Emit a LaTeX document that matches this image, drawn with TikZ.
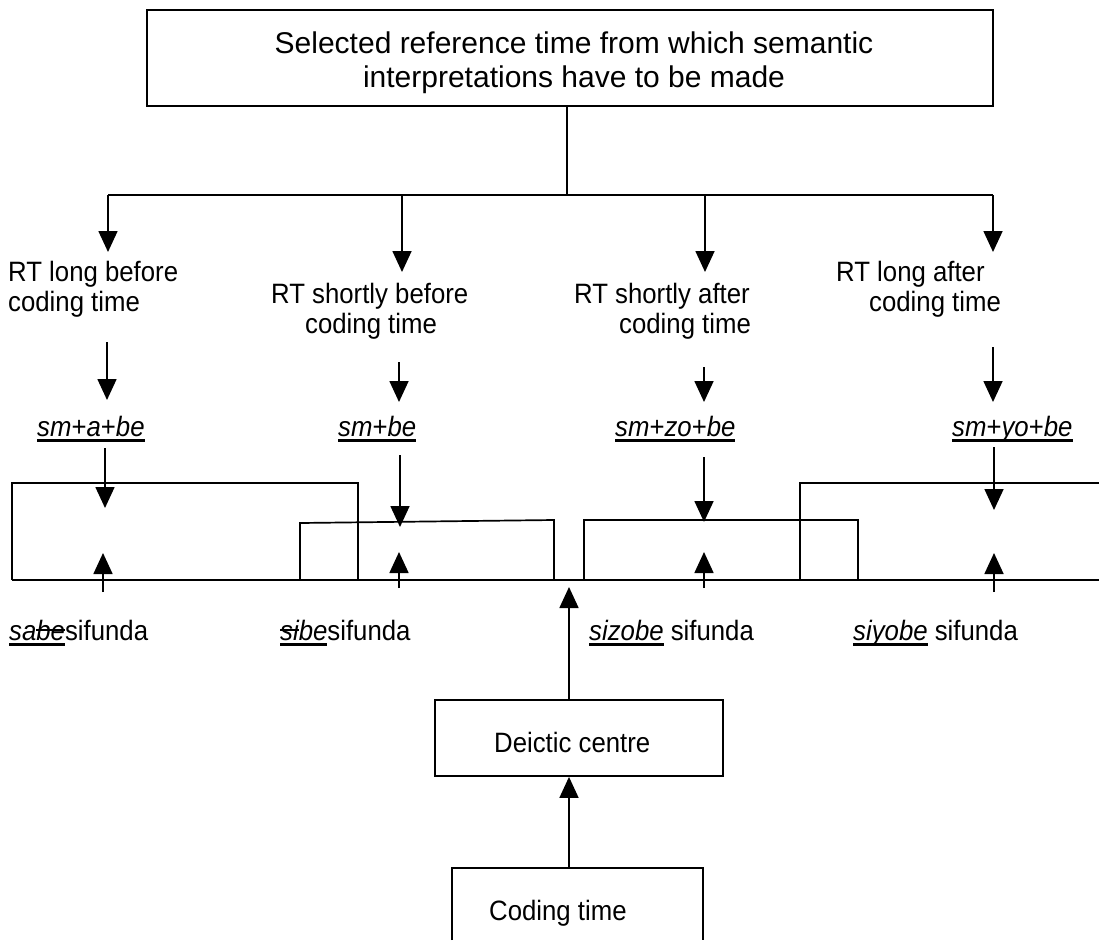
\documentclass[tikz,border=0pt]{standalone}
\usepackage{fontspec}
\setmainfont{Liberation Sans}
\newfontfamily\lblfont{Liberation Sans}[FakeStretch=0.92]
\usetikzlibrary{arrows.meta}
% underline and strike-out drawn as rules over the typeset text
\newsavebox\ulinebox
\newsavebox\strikebox
\newcommand\ulinetext[1]{\sbox\ulinebox{#1}\rlap{\rule[-6pt]{\wd\ulinebox}{2.6pt}}\usebox\ulinebox}
\newcommand\striketext[1]{\sbox\strikebox{#1}\rlap{\rule[9pt]{\wd\strikebox}{2pt}}\usebox\strikebox}
\begin{document}
\begin{tikzpicture}[x=1pt,y=-1pt,
  lbl/.style={inner sep=0pt, font=\lblfont\fontsize{28}{30}\selectfont, anchor=base west, align=left},
  titletext/.style={inner sep=0pt, font=\fontsize{30}{34}\selectfont, anchor=base, align=center},
  frame/.style={draw, line width=1.8pt, inner sep=0pt},
  ln/.style={line width=1.7pt},
  arr/.style={line width=1.7pt, -{Triangle[length=21pt,width=19pt]}}]
\useasboundingbox (0,0) rectangle (1099,940);

% title box (multi-line nodes are placed by the baseline of their last line)
\node[frame, minimum width=846pt, minimum height=96pt] (sel) at (570,58) {};
\node[titletext] (seltext) at (574,87) {Selected reference time from which semantic\\interpretations have to be made};

% branching from the title box
\coordinate (jn) at (567,195);
\coordinate (b1) at (108,195);
\coordinate (b2) at (402,195);
\coordinate (b3) at (705,195);
\coordinate (b4) at (993,195);
\draw[ln] (sel.south -| jn) -- (jn);
\draw[ln] (b1) -- (b4);

% reference-time labels
\node[lbl] (lab1) at (8,311) {RT long before\\coding time};
\node[lbl] (lab2) at (271,333) {RT shortly before\\\hspace*{34pt}coding time};
\node[lbl] (lab3) at (574,333) {RT shortly after\\\hspace*{45pt}coding time};
\node[lbl] (lab4) at (836,311) {RT long after\\\hspace*{33pt}coding time};

\coordinate (t1) at (108,252);
\coordinate (t2) at (402,272);
\coordinate (t3) at (705,272);
\coordinate (t4) at (993,252);
\draw[arr] (b1) -- (t1);
\draw[arr] (b2) -- (t2);
\draw[arr] (b3) -- (t3);
\draw[arr] (b4) -- (t4);

% morphological patterns
\node[lbl] (sm1) at (37,436) {\ulinetext{\textit{sm}+\textit{a}+\textit{be}}};
\node[lbl] (sm2) at (338,436) {\ulinetext{\textit{sm}+\textit{be}}};
\node[lbl] (sm3) at (615,436) {\ulinetext{\textit{sm}+\textit{zo}+\textit{be}}};
\node[lbl] (sm4) at (952,436) {\ulinetext{\textit{sm}+\textit{yo}+\textit{be}}};

\coordinate (p1) at (107,342);
\coordinate (p2) at (399,362);
\coordinate (p3) at (704,367);
\coordinate (p4) at (993,347);
\coordinate (q1) at (107,400);
\coordinate (q2) at (399,402);
\coordinate (q3) at (704,402);
\coordinate (q4) at (993,402);
\draw[arr] (p1) -- (q1);
\draw[arr] (p2) -- (q2);
\draw[arr] (p3) -- (q3);
\draw[arr] (p4) -- (q4);

% time spans over the time line
\draw[ln] (12,580) -- (1099,580);
\draw[ln] (12,580) -- (12,483) -- (358,483) -- (358,580);
\draw[ln] (300,580) -- (300,523) -- (554,520) -- (554,580);
\draw[ln] (584,580) -- (584,520) -- (858,520) -- (858,580);
\draw[ln] (800,580) -- (800,483) -- (1099,483);

% arrows from the patterns onto the spans
\coordinate (d1) at (105,448);
\coordinate (d2) at (400,455);
\coordinate (d3) at (704,457);
\coordinate (d4) at (994,447);
\coordinate (e1) at (105,508);
\coordinate (e2) at (400,527);
\coordinate (e3) at (704,522);
\coordinate (e4) at (994,510);
\draw[arr] (d1) -- (e1);
\draw[arr] (d2) -- (e2);
\draw[arr] (d3) -- (e3);
\draw[arr] (d4) -- (e4);

% arrows from the forms up to the spans
\coordinate (u1) at (103,592);
\coordinate (u2) at (399,588);
\coordinate (u3) at (704,588);
\coordinate (u4) at (994,592);
\coordinate (v1) at (103,553);
\coordinate (v2) at (399,552);
\coordinate (v3) at (704,552);
\coordinate (v4) at (994,553);
\draw[arr] (u1) -- (v1);
\draw[arr] (u2) -- (v2);
\draw[arr] (u3) -- (v3);
\draw[arr] (u4) -- (v4);

% verb forms
\node[lbl] (f1) at (9,640) {\ulinetext{\textit{sa\striketext{be}}}sifunda};
\node[lbl] (f2) at (280,640) {\ulinetext{\textit{\striketext{si}be}}sifunda};
\node[lbl] (f3) at (589,640) {\ulinetext{\textit{sizobe}} sifunda};
\node[lbl] (f4) at (853,640) {\ulinetext{\textit{siyobe}} sifunda};

% deictic centre and coding time
\node[frame, minimum width=288pt, minimum height=76pt] (dc) at (579,738) {};
\node[lbl] (dctext) at (494,752) {Deictic centre};
\coordinate (dctip) at (569,587);
\draw[arr] (dc.north -| dctip) -- (dctip);

\draw[line width=1.8pt] (452,940) -- (452,868) -- (703,868) -- (703,940);
\node[lbl] (ct) at (489,920) {Coding time};
\coordinate (ctop) at (569,868);
\draw[arr] (ctop) -- (dc.south -| ctop);
\end{tikzpicture}
\end{document}
